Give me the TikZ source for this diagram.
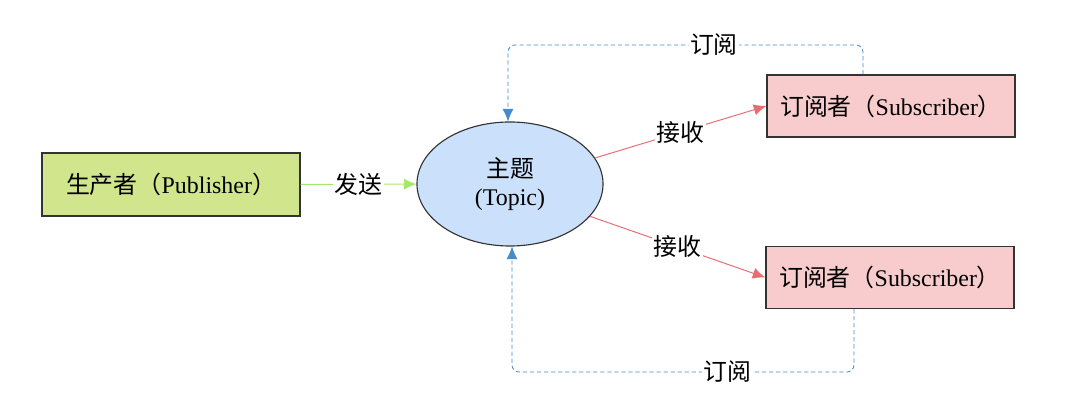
\documentclass[tikz,border=0pt]{standalone}
\usepackage{fontspec}
\setmainfont{Liberation Serif}
\newfontfamily\cjk{Noto Sans CJK SC}
\usepackage{xcolor}
\usepackage{tikz}
\usetikzlibrary{shapes.geometric, arrows.meta, positioning, calc}
\definecolor{pubgreen}{RGB}{208, 229, 140}
\definecolor{topicblue}{RGB}{203, 224, 250}
\definecolor{subpink}{RGB}{248, 204, 204}
\definecolor{sendgreen}{RGB}{165, 232, 105}
\definecolor{recvred}{RGB}{230, 110, 115}
\definecolor{subblue}{RGB}{70, 140, 205}
\newcommand{\zh}[1]{{\cjk #1}}

\begin{document}
\begin{tikzpicture}[x=0.025cm, y=-0.025cm,
    every node/.style={font=\fontsize{17}{20}\selectfont},
    box/.style={draw=black!80, line width=0.8pt, minimum width=6.2cm, minimum height=1.55cm},
    send/.style={sendgreen, line width=0.7pt, -{Latex[length=9pt, width=8pt]}},
    recv/.style={recvred, line width=0.7pt, -{Latex[length=9pt, width=8pt]}},
    subline/.style={subblue, line width=0.6pt, dash pattern=on 3pt off 2pt, rounded corners=5pt,
                    -{Latex[length=9pt, width=8pt]}},
    lbl/.style={fill=white, text=black, inner sep=1pt}]
    \useasboundingbox (0,0) rectangle (1080,405);

    % Define the nodes (publisher, topic, two subscribers)
    \node[box, fill=pubgreen, minimum width=6.45cm, minimum height=1.575cm] (Publisher) at (171,184.5)
        {\zh{生产者（}Publisher\zh{）}};
    \node[ellipse, draw=black!80, line width=0.8pt, fill=topicblue, minimum width=4.65cm,
          minimum height=3.1cm, align=center] (Topic) at (510,184)
        {\zh{主题}\\(Topic)};
    \node[box, fill=subpink] (SubA) at (891,106) {\zh{订阅者（}Subscriber\zh{）}};
    \node[box, fill=subpink] (SubB) at (890,277.5) {\zh{订阅者（}Subscriber\zh{）}};

    % Publish and receive (solid arrows)
    \draw[send] (Publisher) -- node[lbl] {\zh{发送}} (Topic);
    \draw[recv] (Topic.17) -- node[lbl] {\zh{接收}} (SubA.west);
    \draw[recv] (Topic.-22) -- node[lbl] {\zh{接收}} (SubB.west);

    % Subscribe back to the topic (dashed lines)
    \coordinate (TopA) at (863,45);
    \coordinate (TopB) at (508,45);
    \coordinate (BotA) at (854,372);
    \coordinate (BotB) at (512,372);
    \draw[subline] (SubA.north -| TopA) -- (TopA) -- node[lbl, pos=0.42] {\zh{订阅}} (TopB)
        -- (Topic.north -| TopB);
    \draw[subline] (SubB.south -| BotA) -- (BotA) -- node[lbl, pos=0.37] {\zh{订阅}} (BotB)
        -- (Topic.south -| BotB);
\end{tikzpicture}
\end{document}
